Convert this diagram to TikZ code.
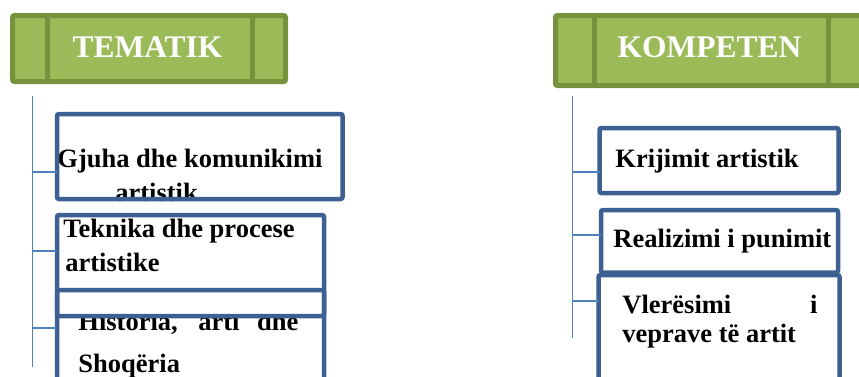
\documentclass[tikz,border=0pt]{standalone}
\usepackage{fontspec}
\setmainfont{Liberation Serif}
\definecolor{hdrfill}{HTML}{9BBB59}
\definecolor{hdrline}{HTML}{76923C}
\definecolor{boxline}{HTML}{3B6091}
\definecolor{linkline}{HTML}{4F81BD}
\tikzset{
  headbar/.style={draw=hdrline,fill=hdrfill,line width=2.5pt,rounded corners=1pt,inner sep=0pt,outer sep=0pt},
  headrule/.style={draw=hdrline,line width=2.5pt},
  headtext/.style={text=white,font=\fontsize{15.75}{18}\selectfont\bfseries,anchor=base,inner sep=0pt},
  topicbox/.style={draw=boxline,line width=2.25pt,rounded corners=1pt,inner sep=0pt,outer sep=0pt},
  topictext/.style={font=\fontsize{13.25}{16}\selectfont\bfseries,anchor=base west,inner sep=0pt},
  link/.style={draw=linkline,line width=0.75pt}
}
\begin{document}
\begin{tikzpicture}[x=0.5pt,y=0.5pt]
\useasboundingbox (0,0) rectangle (859,-376);
\clip (0,0) rectangle (859,-376);
% headers
\node[headbar,minimum width=136.5pt,minimum height=33pt] (tematik) at (149,-48.5) {};
\draw[headrule] ([xshift=17.25pt]tematik.north west) -- ([xshift=17.25pt]tematik.south west);
\draw[headrule] ([xshift=-16.5pt]tematik.north east) -- ([xshift=-16.5pt]tematik.south east);
\node[headtext] (tematikT) at (147.5,-57) {TEMATIK};
\node[headbar,minimum width=167.25pt,minimum height=35pt] (kompeten) at (722.75,-50.5) {};
\draw[headrule] ([xshift=19.5pt]kompeten.north west) -- ([xshift=19.5pt]kompeten.south west);
\draw[headrule] ([xshift=-30.75pt]kompeten.north east) -- ([xshift=-30.75pt]kompeten.south east);
\node[headtext] (kompetenT) at (709.5,-57) {KOMPETEN};
% trunks
\coordinate (ltop) at (32.5,-96);
\coordinate (lbot) at (32.5,-367);
\coordinate (rtop) at (572.5,-96);
\coordinate (rbot) at (572.5,-338);
\draw[link] (ltop) -- (lbot);
\draw[link] (rtop) -- (rbot);
% left column
\node[topictext] (gjuhaA) at (57,-167) {Gjuha dhe komunikimi};
\node[topictext] (gjuhaB) at (115,-201) {artistik};
\node[topicbox,minimum width=142.75pt,minimum height=42.5pt] (gjuha) at (199.75,-156.5) {};
\node[topictext] (historiaA) at (78,-330) {\makebox[110pt][s]{Historia, arti dhe}};
\node[topictext] (historiaB) at (78,-372) {Shoqëria};
\node[topicbox,fill=white,minimum width=133.5pt,minimum height=50.5pt] (teknika) at (190.5,-265.5) {};
\node[topictext] (teknikaA) at (63,-237) {Teknika dhe procese};
\node[topictext] (teknikaB) at (65,-271) {artistike};
\node[topicbox,minimum width=133.5pt,minimum height=65pt] (historia) at (190.5,-355) {};
% right column
\node[topictext] (krijimiT) at (615,-167) {Krijimit artistik};
\node[topicbox,minimum width=119.5pt,minimum height=32.5pt] (krijimi) at (719,-160.5) {};
\node[topictext] (realizimiT) at (613,-247) {Realizimi i punimit};
\node[topicbox,minimum width=118.5pt,minimum height=31.25pt] (realizimi) at (719.5,-241.25) {};
\node[topictext] (vleresimiA) at (622,-313) {\makebox[97.5pt][s]{Vlerësimi i}};
\node[topictext] (vleresimiB) at (622,-342) {veprave të artit};
\node[topicbox,minimum width=120.5pt,minimum height=72.5pt] (vleresimi) at (719,-347.5) {};
% branches
\foreach \nd/\yy [count=\i] in {gjuha/172,teknika/251,historia/328}{
  \coordinate (lb\i) at (32.5,-\yy);
  \draw[link] (lb\i) -- (lb\i -| \nd.west);
}
\foreach \nd/\yy [count=\i] in {krijimi/172,realizimi/235,vleresimi/301}{
  \coordinate (rb\i) at (572.5,-\yy);
  \draw[link] (rb\i) -- (rb\i -| \nd.west);
}
\end{tikzpicture}
\end{document}
